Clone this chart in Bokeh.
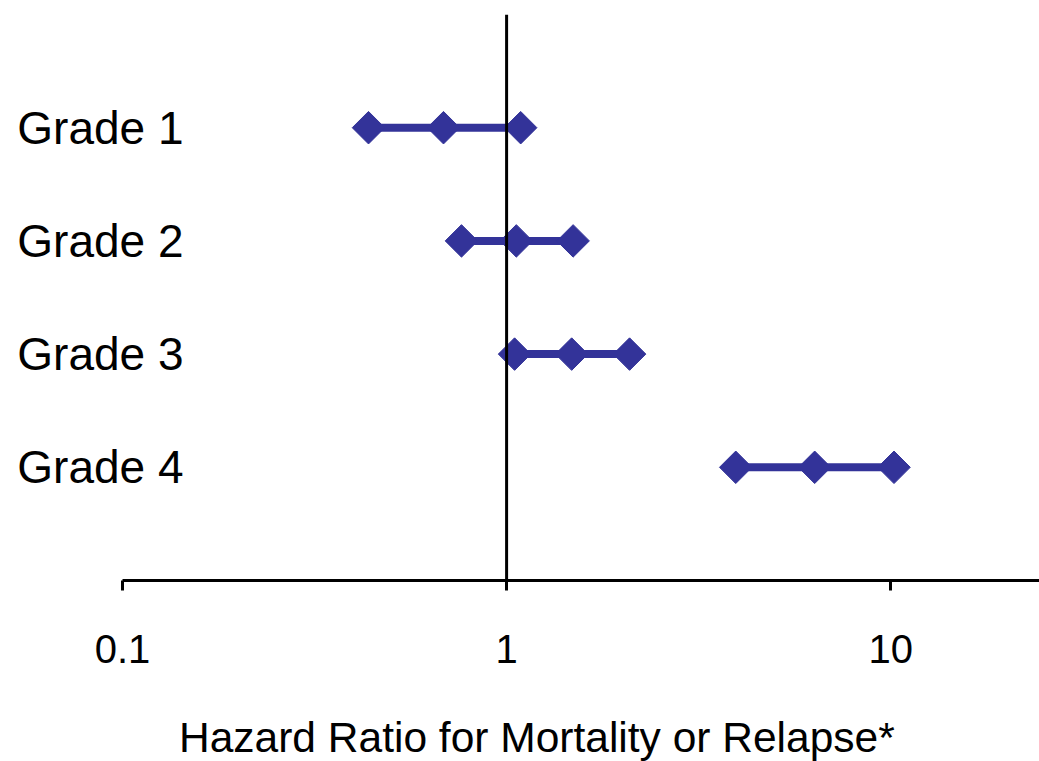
import math
from bokeh.plotting import figure
from bokeh.layouts import column
from bokeh.models import Range1d, FixedTicker, Span, ColumnDataSource, Div
from bokeh.embed import file_html
from bokeh.resources import INLINE

grades = ["Grade 1", "Grade 2", "Grade 3", "Grade 4"]
ypos = [4, 3, 2, 1]
lower = [0.437, 0.763, 1.049, 3.95]
hr = [0.685, 1.06, 1.477, 6.34]
upper = [1.088, 1.49, 2.09, 10.2]
x_ticks = [0.1, 1, 10]
x_tick_labels = ["0.1", "1", "10"]
x_title = "Hazard Ratio for Mortality or Relapse*"

FONT = "Liberation Sans"
COLOR = "#333399"

p = figure(width=1039, height=710, x_axis_type="log",
           x_range=Range1d(0.1, 24.4), y_range=Range1d(0, 5),
           output_backend="svg", toolbar_location=None,
           min_border_left=122, min_border_right=0,
           min_border_top=14, min_border_bottom=130)
p.outline_line_color = None
p.xgrid.visible = False
p.ygrid.visible = False
p.background_fill_color = "white"
p.border_fill_color = "white"

src = ColumnDataSource(dict(y=ypos, lo=lower, hr=hr, up=upper))
p.segment(x0="lo", x1="up", y0="y", y1="y", source=src,
          line_color=COLOR, line_width=8)
p.add_layout(Span(location=1, dimension="height", line_color="black",
                  line_width=3))
pts_x = lower + hr + upper
pts_y = ypos * 3
p.scatter(pts_x, pts_y, marker="square", size=23, angle=math.pi / 4,
          fill_color=COLOR, line_color=COLOR)

xa = p.xaxis[0]
xa.ticker = FixedTicker(ticks=x_ticks, minor_ticks=[])
xa.major_label_overrides = {t: l for t, l in zip(x_ticks, x_tick_labels)}
xa.axis_line_width = 3
xa.axis_line_color = "black"
xa.major_tick_line_width = 3
xa.major_tick_line_color = "black"
xa.major_tick_out = 10
xa.major_tick_in = 0
xa.minor_tick_line_color = None
xa.major_label_text_font = FONT
xa.major_label_text_font_size = "40px"
xa.major_label_text_color = "black"
xa.major_label_standoff = 44

ya = p.yaxis[0]
ya.ticker = FixedTicker(ticks=ypos, minor_ticks=[])
ya.major_label_overrides = {y: g for y, g in zip(ypos, grades)}
ya.axis_line_color = None
ya.major_tick_line_color = None
ya.minor_tick_line_color = None
ya.major_tick_out = 0
ya.major_tick_in = 0
ya.major_label_text_font = FONT
ya.major_label_text_font_size = "46px"
ya.major_label_text_color = "black"
ya.major_label_standoff = -61

title_div = Div(
    text=('<div style="padding: 7px 0 0 179px; font-family: \'Liberation Sans\';'
          ' font-size: 42.5px; line-height: 1; color: black;'
          ' white-space: nowrap; margin: 0;">' + x_title + '</div>'),
    width=1039, height=51, margin=0,
    styles={"background-color": "white"})

layout = column(p, title_div, spacing=0)

open("out.html", "w").write(file_html(layout, INLINE))
